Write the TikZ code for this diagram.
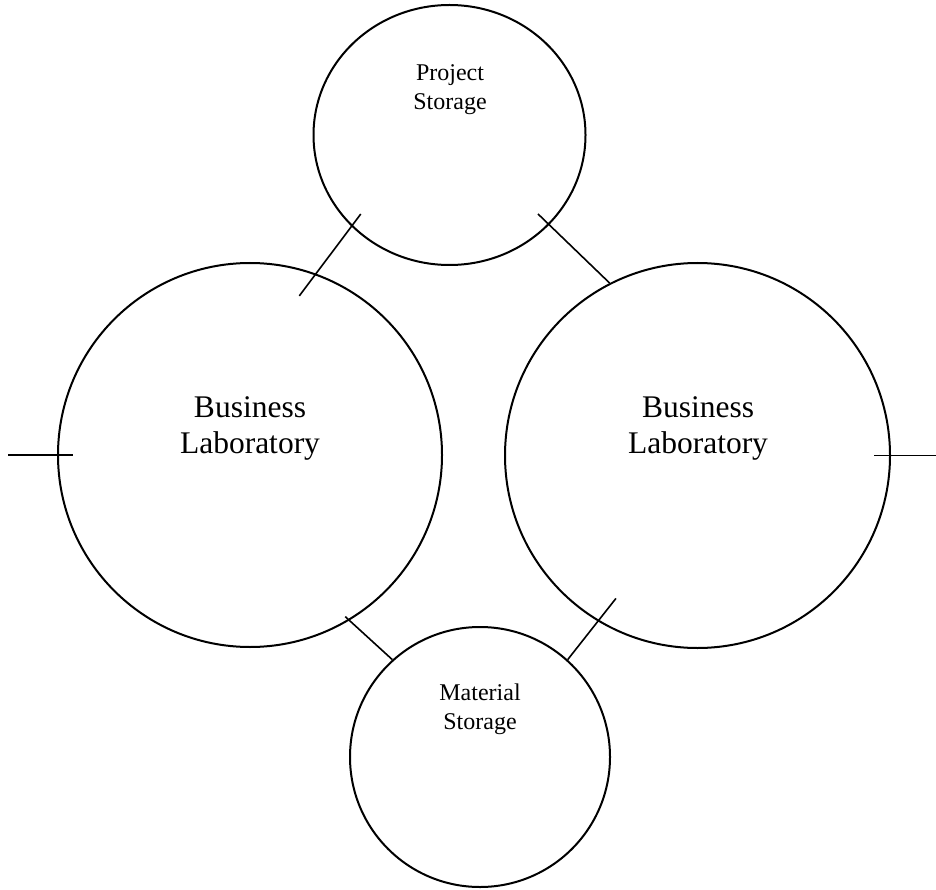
\documentclass[tikz,border=0pt]{standalone}
\usepackage{fontspec}
\setmainfont{Liberation Serif}
\usetikzlibrary{shapes.geometric}
\begin{document}
\begin{tikzpicture}[x=1pt,y=-1pt,
  room/.style={circle,draw,line width=2pt,inner sep=0pt},
  link/.style={line width=1.6pt},
  bigtext/.style={font=\fontsize{31.5}{36}\selectfont,align=center,inner sep=0pt},
  smalltext/.style={font=\fontsize{24}{29}\selectfont,align=center,inner sep=0pt}]
\useasboundingbox (0,0) rectangle (936,890);
\node[ellipse,draw,line width=2pt,inner sep=0pt,minimum width=272pt,minimum height=260pt] (ps) at (449.5,135) {};
\node[room,minimum size=384pt] (lab1) at (250,455) {};
\node[room,minimum size=385pt] (lab2) at (697.5,455.5) {};
\node[room,minimum size=260pt] (mat) at (480,757) {};
\node[smalltext] (tps) at (450,90) {Project\\Storage};
\node[bigtext] (tl1) at (250,428) {Business\\Laboratory};
\node[bigtext] (tl2) at (698,428) {Business\\Laboratory};
\node[smalltext] (tmat) at (480,709) {Material\\Storage};
\draw[link,shorten <=-15.6pt,shorten >=-27.8pt] (ps.223.0) -- (lab1.70.7);
\draw[link,shorten <=-15.6pt] (ps.318.2) -- (lab2.117.8);
\draw[link,shorten <=-5.7pt] (lab1.301.3) -- (mat.132.5);
\draw[link,shorten <=-29.2pt] (lab2.239.3) -- (mat.48.1);
\draw[link] ([xshift=-49pt]lab1.west) -- ([xshift=16pt]lab1.west);
\draw[link] ([xshift=-17pt]lab2.east) -- ([xshift=46pt]lab2.east);
\end{tikzpicture}
\end{document}
